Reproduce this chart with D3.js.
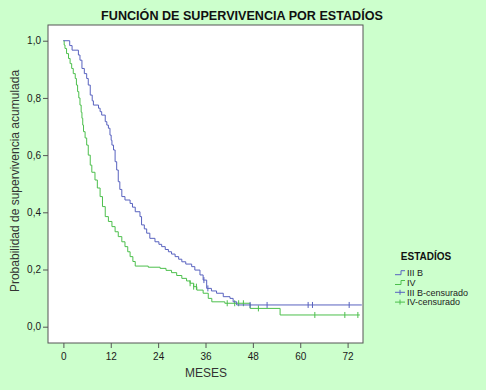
<!DOCTYPE html>
<html>
<head>
<meta charset="utf-8">
<script src="https://cdn.jsdelivr.net/npm/d3@7"></script>
<style>
  body { margin: 0; background: #ccffcc; }
  text { font-family: "Liberation Sans", Arial, sans-serif; }
</style>
</head>
<body>
<div id="chart"></div>
<script>
// months / cumulative survival
const stage3b = [[0,1.0],[1.6,0.983],[2.2,0.967],[3.8,0.95],[4.2,0.932],[4.7,0.903],[5.3,0.885],[5.9,0.868],
  [6.3,0.845],[6.8,0.81],[7.3,0.79],[7.6,0.775],[8.9,0.764],[9.3,0.752],[9.7,0.74],[10.6,0.717],[11.0,0.705],
  [11.4,0.694],[11.8,0.67],[12.1,0.652],[12.3,0.635],[12.7,0.618],[13.1,0.577],[13.5,0.548],[13.9,0.507],
  [14.3,0.48],[14.8,0.455],[15.6,0.443],[16.9,0.431],[17.5,0.418],[18.2,0.402],[19.4,0.385],[19.8,0.356],
  [20.5,0.342],[21.1,0.327],[21.9,0.309],[23.2,0.297],[24.2,0.288],[24.9,0.28],[25.8,0.27],[26.6,0.262],
  [27.4,0.254],[28.3,0.245],[29.2,0.236],[30,0.227],[31,0.219],[32.5,0.21],[33.3,0.198],[34.6,0.181],
  [35.4,0.163],[36.3,0.134],[37.5,0.125],[38.8,0.117],[40.5,0.105],[42.2,0.099],[43,0.087],[43.9,0.076],[75.6,0.076]];
const stage4 = [[0,1.0],[0.2,0.985],[0.4,0.973],[0.8,0.955],[1.3,0.938],[1.7,0.92],[2.1,0.903],[2.5,0.885],
  [3,0.868],[3.3,0.845],[3.6,0.822],[3.9,0.8],[4.2,0.775],[4.5,0.75],[4.7,0.729],[4.9,0.705],[5.1,0.682],
  [5.5,0.66],[5.9,0.635],[6.3,0.6],[6.8,0.565],[7.2,0.54],[8,0.513],[8.6,0.485],[9.3,0.455],[9.9,0.42],
  [10.6,0.385],[11.4,0.368],[12.3,0.35],[13.1,0.332],[13.9,0.315],[14.8,0.297],[15.6,0.28],[16.3,0.262],
  [16.9,0.245],[17.6,0.228],[18.2,0.212],[21.5,0.208],[24.5,0.204],[26,0.197],[27.4,0.189],[28.7,0.179],
  [30,0.169],[31.2,0.16],[32.1,0.152],[33,0.14],[33.8,0.128],[35.4,0.117],[36.7,0.099],[37.6,0.087],
  [40.9,0.082],[47.3,0.064],[54.9,0.041],[75.1,0.041]];
const censor3b = [35.6, 36.6, 47.3, 51.6, 62.0, 63.1, 72.4];
const censor4 = [32.1, 33.0, 33.7, 41.5, 43.4, 44.4, 45.6, 49.4, 63.7, 71.3, 74.6];

const xTicks = [0, 12, 24, 36, 48, 60, 72];
const yTicks = [0, 0.2, 0.4, 0.6, 0.8, 1.0];
const legendItems = ["III B", "IV", "III B-censurado", "IV-censurado"];

const blue = "#5862bf", green = "#4cbf4c", axisCol = "#555";

const W = 486, H = 390;
const svg = d3.select("#chart").append("svg").attr("width", W).attr("height", H);

const x = d3.scaleLinear().domain([-3.9, 75.9]).range([48, 363]);
const y = d3.scaleLinear().domain([-0.057, 1.055]).range([343, 25]);

svg.append("rect")
  .attr("x", 48).attr("y", 25).attr("width", 315).attr("height", 318)
  .attr("fill", "#fff").attr("stroke", axisCol).attr("stroke-width", 1);

svg.append("text")
  .attr("x", 242).attr("y", 20).attr("text-anchor", "middle")
  .attr("font-size", 12.6).attr("font-weight", "bold").attr("fill", "#111")
  .text("FUNCIÓN DE SUPERVIVENCIA POR ESTADÍOS");

// axes
const fmt = d => d3.format(".1f")(d).replace(".", ",");
const xAxis = svg.append("g")
  .attr("transform", "translate(0,343)")
  .call(d3.axisBottom(x).tickValues(xTicks).tickSize(5).tickSizeOuter(0));
const yAxis = svg.append("g")
  .attr("transform", "translate(48,0)")
  .call(d3.axisLeft(y).tickValues(yTicks).tickFormat(fmt).tickSize(5).tickSizeOuter(0));
for (const a of [xAxis, yAxis]) {
  a.select(".domain").remove();
  a.selectAll("line").attr("stroke", axisCol);
  a.selectAll("text").attr("font-size", 10).attr("fill", "#1a1a1a")
    .style("font-family", "'Liberation Sans', Arial, sans-serif");
}
xAxis.selectAll("text").attr("dy", "0.9em");
yAxis.selectAll("text").attr("dx", "0.1em");

svg.append("text")
  .attr("x", 206).attr("y", 377).attr("text-anchor", "middle")
  .attr("font-size", 12).attr("fill", "#333").text("MESES");
svg.append("text")
  .attr("transform", "translate(19,181) rotate(-90)").attr("text-anchor", "middle")
  .attr("font-size", 12).attr("fill", "#333").text("Probabilidad de supervivencia acumulada");

// curves
const line = d3.line().x(d => x(d[0])).y(d => y(d[1])).curve(d3.curveStepAfter);
const bis = d3.bisector(d => d[0]).right;
function survAt(series, t) { return series[Math.max(0, bis(series, t) - 1)][1]; }

function drawSeries(series, cens, col) {
  svg.append("path").datum(series)
    .attr("d", line).attr("fill", "none").attr("stroke", col).attr("stroke-width", 1);
  svg.append("g").selectAll("line").data(cens).join("line")
    .attr("x1", d => x(d)).attr("x2", d => x(d))
    .attr("y1", d => y(survAt(series, d)) - 3).attr("y2", d => y(survAt(series, d)) + 3)
    .attr("stroke", col).attr("stroke-width", 1);
}
drawSeries(stage4, censor4, green);
drawSeries(stage3b, censor3b, blue);

// legend
const lg = svg.append("g");
lg.append("text").attr("x", 426).attr("y", 259.5).attr("text-anchor", "middle")
  .attr("font-size", 10).attr("font-weight", "bold").attr("fill", "#111").text("ESTADÍOS");
legendItems.forEach((name, i) => {
  const yy = 272.7 + i * 9.8;
  const col = i % 2 === 0 ? blue : green;
  if (i < 2) {
    lg.append("path").attr("d", `M395,${yy + 2}H401V${yy - 2}H405`)
      .attr("fill", "none").attr("stroke", col);
  } else {
    lg.append("path").attr("d", `M395,${yy}H405M400,${yy - 2.5}V${yy + 2.5}`)
      .attr("fill", "none").attr("stroke", col);
  }
  lg.append("text").attr("x", 407).attr("y", yy + 3.2)
    .attr("font-size", 9).attr("fill", "#222").text(name);
});
</script>
</body>
</html>
